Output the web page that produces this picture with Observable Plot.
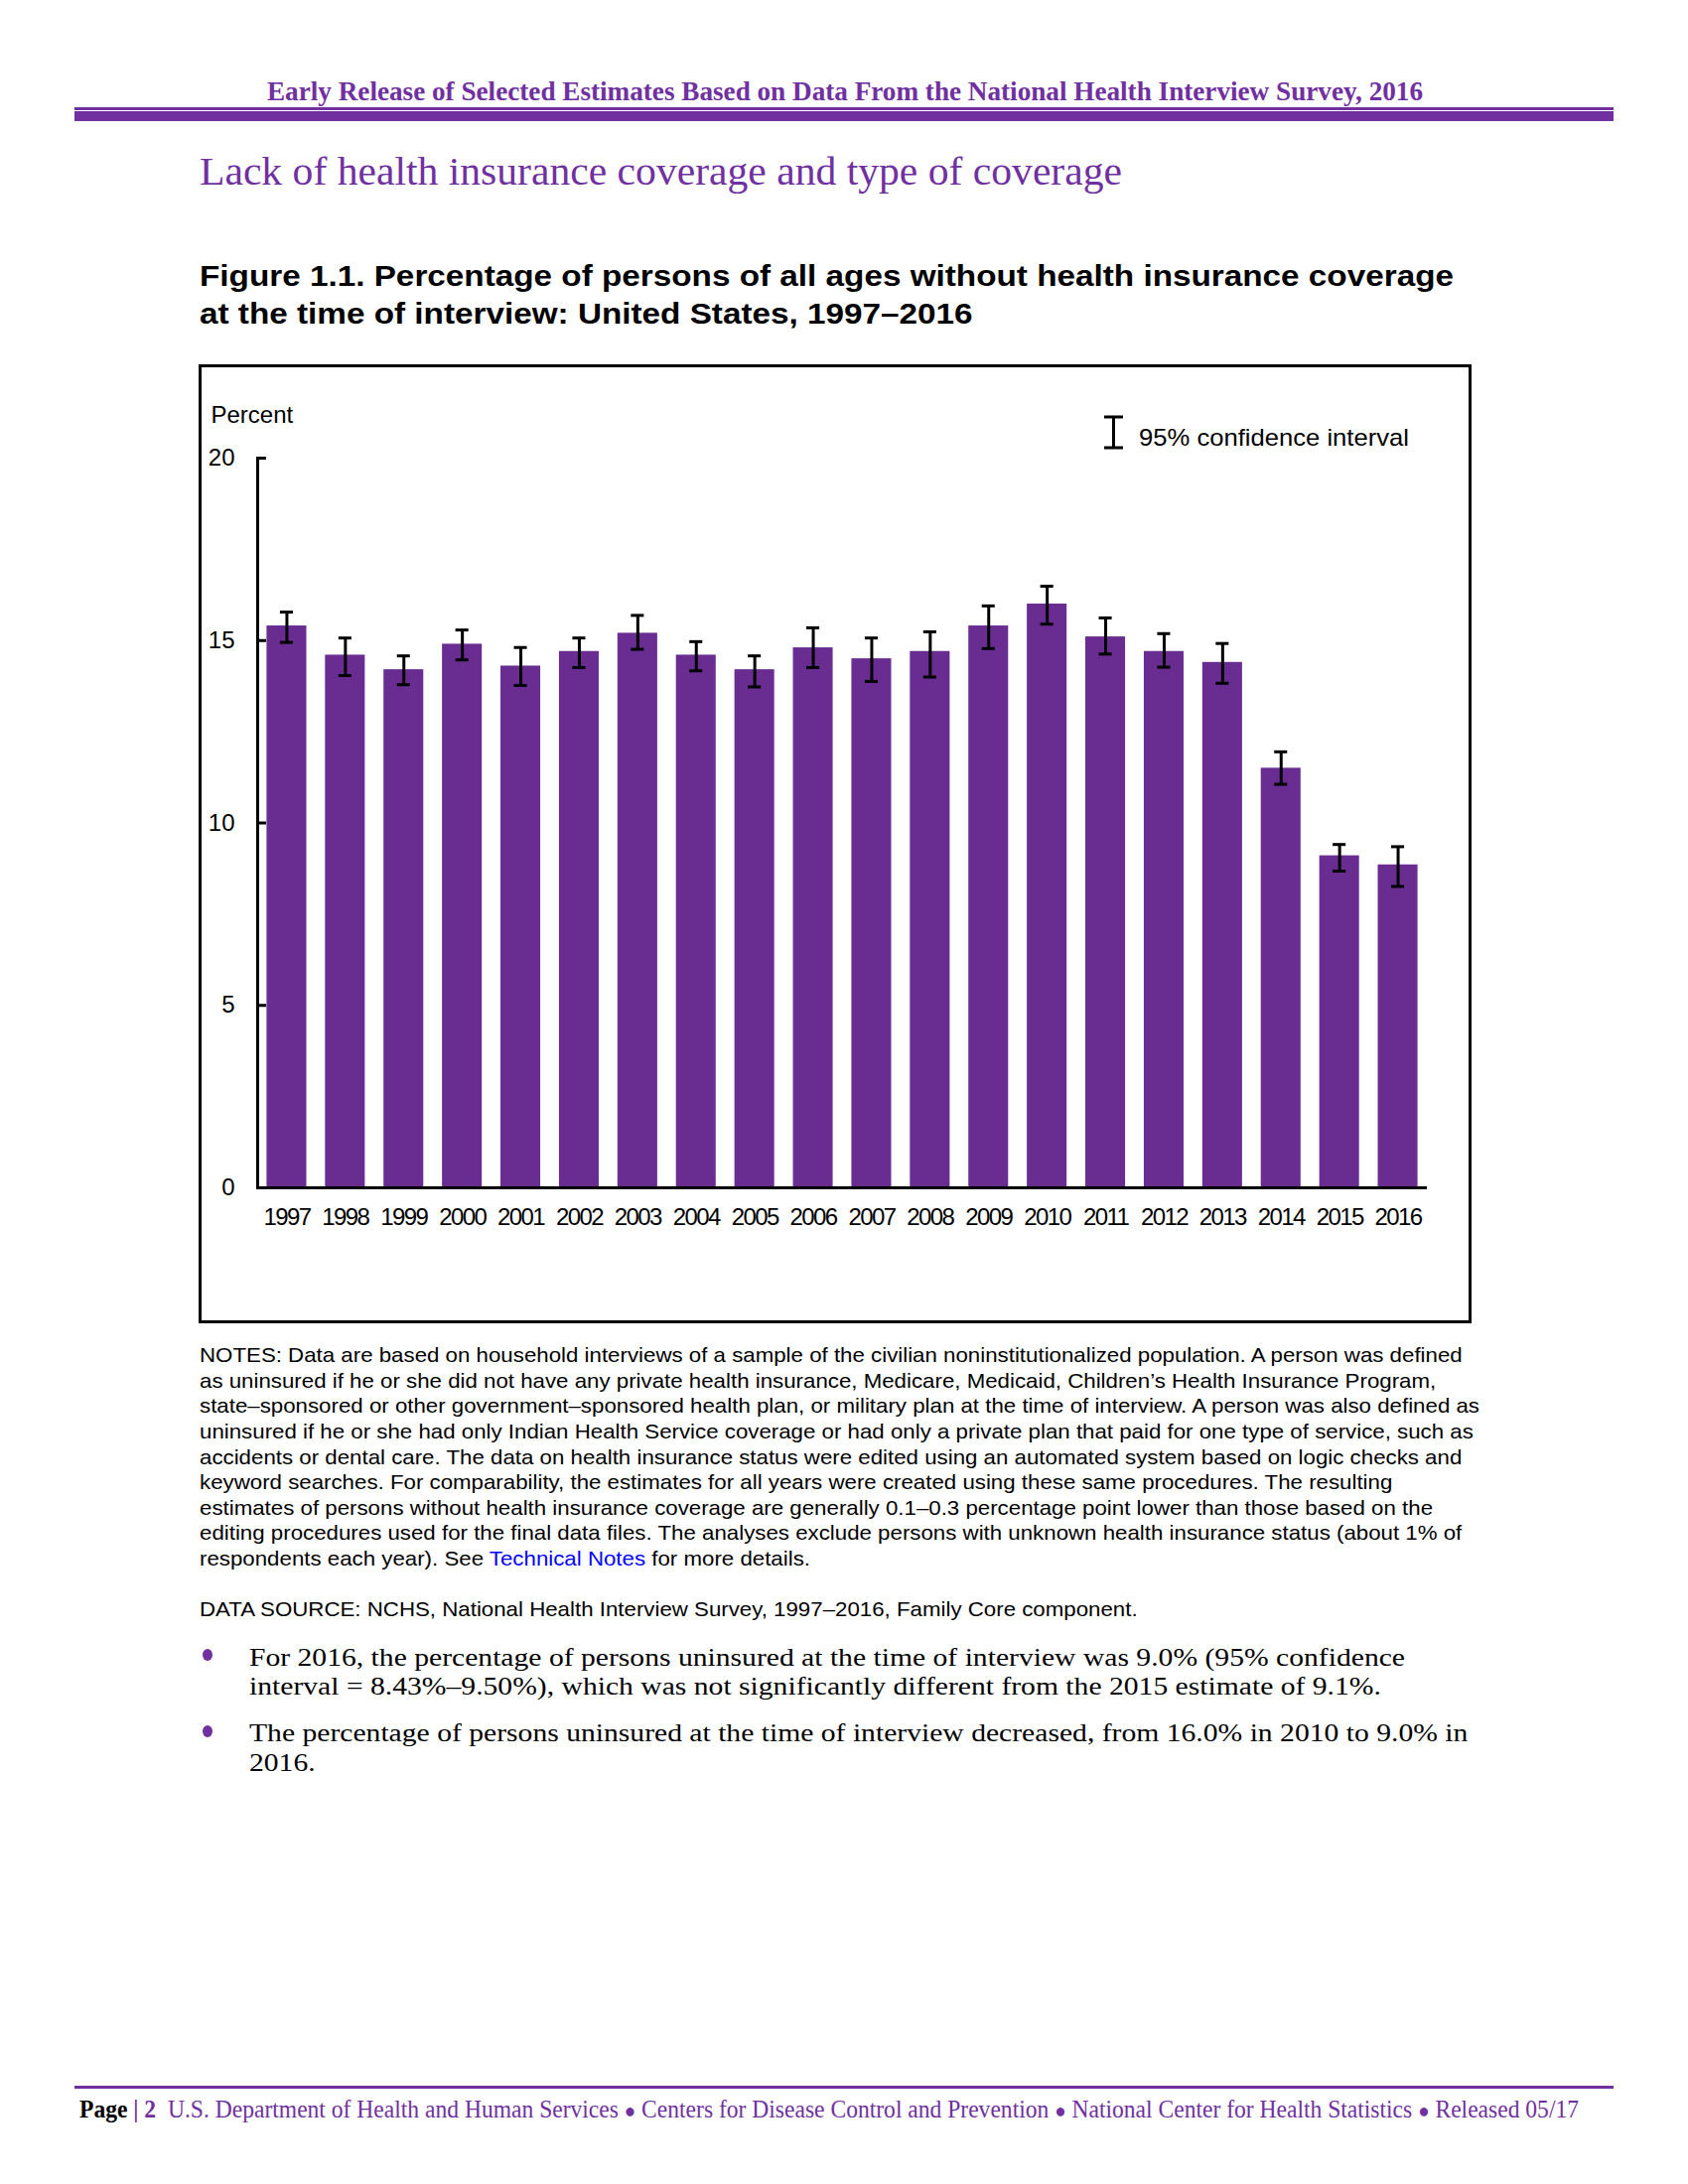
<!DOCTYPE html>
<html>
<head>
<meta charset="utf-8">
<script src="https://cdn.jsdelivr.net/npm/d3@7"></script>
<script src="https://cdn.jsdelivr.net/npm/@observablehq/plot@0.6"></script>
<style>
html,body{margin:0;padding:0;background:#fff;}
#page{position:relative;width:1700px;height:2200px;overflow:hidden;background:#fff;}
.abs{position:absolute;white-space:nowrap;line-height:1;transform-origin:0 0;}
.serif{font-family:"Liberation Serif","DejaVu Serif",serif;}
.sans{font-family:"Liberation Sans",Arial,sans-serif;}
g[aria-label="x-axis tick label"] text{letter-spacing:-1.6px;}
</style>
</head>
<body>
<div id="page"></div>
<script>
// ---------- data ----------
const years = ["1997","1998","1999","2000","2001","2002","2003","2004","2005","2006",
               "2007","2008","2009","2010","2011","2012","2013","2014","2015","2016"];
const pct    = [15.4, 14.6, 14.2, 14.9, 14.3, 14.7, 15.2, 14.6, 14.2, 14.8,
                14.5, 14.7, 15.4, 16.0, 15.1, 14.7, 14.4, 11.5, 9.1, 8.85];
const ciLow  = [14.95, 14.04, 13.79, 14.47, 13.77, 14.26, 14.76, 14.17, 13.73, 14.26,
                13.88, 14.00, 14.78, 15.45, 14.63, 14.27, 13.83, 11.06, 8.68, 8.26];
const ciHigh = [15.78, 15.07, 14.58, 15.29, 14.81, 15.07, 15.69, 14.97, 14.58, 15.35,
                15.07, 15.24, 15.95, 16.49, 15.62, 15.19, 14.92, 11.95, 9.41, 9.35];
const yTicks = [0, 5, 10, 15, 20];

const headerText = "Early Release of Selected Estimates Based on Data From the National Health Interview Survey, 2016";
const sectionTitle = "Lack of health insurance coverage and type of coverage";
const figTitle = ["Figure 1.1. Percentage of persons of all ages without health insurance coverage",
                  "at the time of interview: United States, 1997–2016"];
const yLabel = "Percent";
const legendText = "95% confidence interval";
const notes = [
  "NOTES: Data are based on household interviews of a sample of the civilian noninstitutionalized population. A person was defined",
  "as uninsured if he or she did not have any private health insurance, Medicare, Medicaid, Children’s Health Insurance Program,",
  "state–sponsored or other government–sponsored health plan, or military plan at the time of interview. A person was also defined as",
  "uninsured if he or she had only Indian Health Service coverage or had only a private plan that paid for one type of service, such as",
  "accidents or dental care. The data on health insurance status were edited using an automated system based on logic checks and",
  "keyword searches. For comparability, the estimates for all years were created using these same procedures. The resulting",
  "estimates of persons without health insurance coverage are generally 0.1–0.3 percentage point lower than those based on the",
  "editing procedures used for the final data files. The analyses exclude persons with unknown health insurance status (about 1% of",
  "respondents each year). See <span style=\"color:#0000ff\">Technical Notes</span> for more details."
];
const dataSource = "DATA SOURCE: NCHS, National Health Interview Survey, 1997–2016, Family Core component.";
const bullets = [
  ["For 2016, the percentage of persons uninsured at the time of interview was 9.0% (95% confidence",
   "interval = 8.43%–9.50%), which was not significantly different from the 2015 estimate of 9.1%."],
  ["The percentage of persons uninsured at the time of interview decreased, from 16.0% in 2010 to 9.0% in",
   "2016."]
];
const footerParts = ["U.S. Department of Health and Human Services", "Centers for Disease Control and Prevention",
                     "National Center for Health Statistics", "Released 05/17"];

// ---------- styling ----------
const PURPLE = "#7030a0";
const BAR = "#692c90";
const page = document.getElementById("page");

const BASE = {serif: 0.8375, sans: 0.8465};
function place(html, {x, baseline, size, font = "sans", weight = "normal", color = "#000", width = null}) {
  const d = document.createElement("div");
  d.className = "abs " + font;
  d.innerHTML = html;
  d.style.left = x + "px";
  d.style.top = (baseline - BASE[font] * size) + "px";
  d.style.fontSize = size + "px";
  d.style.fontWeight = weight;
  d.style.color = color;
  page.appendChild(d);
  if (width) {
    const w = d.getBoundingClientRect().width;
    d.style.transform = `scaleX(${width / w})`;
  }
  return d;
}
function box(x, y, w, h, style) {
  const d = document.createElement("div");
  d.style.position = "absolute";
  d.style.left = x + "px"; d.style.top = y + "px";
  d.style.width = w + "px"; d.style.height = h + "px";
  Object.assign(d.style, style);
  page.appendChild(d);
  return d;
}

// header
place(headerText, {x: 269, baseline: 102, size: 27, font: "serif", weight: "bold", color: PURPLE, width: 1164});
box(75, 108, 1550, 2.5, {background: PURPLE});
box(75, 112, 1550, 10, {background: PURPLE});

// section title
place(sectionTitle, {x: 201, baseline: 186, size: 39, font: "serif", color: PURPLE, width: 929});

// figure title
const ft1 = place(figTitle[0], {x: 201, baseline: 288.5, size: 30, font: "sans", weight: "bold"});
const ft2 = place(figTitle[1], {x: 201, baseline: 326.8, size: 30, font: "sans", weight: "bold"});
const tScale = 1263 / ft1.getBoundingClientRect().width;
ft1.style.transform = ft2.style.transform = `scaleX(${tScale})`;

// chart frame
box(200, 367, 1276, 960, {border: "3px solid #000"});

// chart
const data = years.map((year, i) => ({year, value: pct[i], lo: ciLow[i], hi: ciHigh[i]}));
const chart = Plot.plot({
  width: 1276, height: 925,
  marginLeft: 56, marginRight: 42, marginTop: 56, marginBottom: 134,
  style: {fontFamily: "Liberation Sans, Arial, sans-serif", fontSize: "24px", color: "#000", background: "transparent", overflow: "visible"},
  x: {type: "band", domain: years, paddingInner: 0.32, paddingOuter: 0.16, align: 0.5, round: false},
  y: {domain: [0, 20]},
  marks: [
    Plot.barY(data, {x: "year", y: "value", fill: BAR}),
    Plot.ruleX(data, {x: "year", y1: "lo", y2: "hi", stroke: "#000", strokeWidth: 3}),
    Plot.tickY(data, {x: "year", y: "lo", stroke: "#000", strokeWidth: 3, insetLeft: 13.5, insetRight: 13.5}),
    Plot.tickY(data, {x: "year", y: "hi", stroke: "#000", strokeWidth: 3, insetLeft: 13.5, insetRight: 13.5}),
    Plot.axisY({ticks: yTicks, tickSize: -9, tickPadding: 32, strokeWidth: 3, tickFormat: d => String(d),
                label: yLabel, labelAnchor: "top", labelArrow: "none", labelOffset: 47}),
    Plot.axisX({tickSize: 0, tickPadding: 20, label: null}),
    Plot.frame({anchor: "left", stroke: "#000", strokeWidth: 3}),
    Plot.ruleY([0], {stroke: "#000", strokeWidth: 3})
  ]
});
chart.style.position = "absolute";
chart.style.left = "203px";
chart.style.top = "405px";
page.appendChild(chart);

// legend
const lg = document.createElementNS("http://www.w3.org/2000/svg", "svg");
lg.setAttribute("width", "24"); lg.setAttribute("height", "36");
lg.style.position = "absolute"; lg.style.left = "1110px"; lg.style.top = "418px";
lg.innerHTML = '<path d="M11.5,2V33M2,2H21M2,33H21" stroke="#000" stroke-width="3" fill="none"/>';
page.appendChild(lg);
place(legendText, {x: 1147, baseline: 449.5, size: 24, font: "sans", width: 272});

// notes
const noteEls = notes.map((t, i) => place(t, {x: 201, baseline: 1372 + i * 25.6, size: 21, font: "sans"}));
const nScale = 1289 / noteEls[2].getBoundingClientRect().width;
noteEls.forEach(el => el.style.transform = `scaleX(${nScale})`);
const ds = place(dataSource, {x: 201, baseline: 1627.5, size: 21, font: "sans"});
ds.style.transform = `scaleX(${nScale})`;

// bullets
const bBase = [[1678.3, 1707.3], [1755, 1784.3]];
const bEls = [];
bullets.forEach((lines, bi) => {
  box(204, bBase[bi][0] - 17, 10, 12, {background: PURPLE, borderRadius: "50%"});
  lines.forEach((t, li) => bEls.push(place(t, {x: 251, baseline: bBase[bi][li], size: 26, font: "serif"})));
});
const bScale = 1164 / bEls[0].getBoundingClientRect().width;
bEls.forEach(el => el.style.transform = `scaleX(${bScale})`);

// footer
box(75, 2101, 1550, 3, {background: PURPLE});
const fhtml = '<span style="color:#000;font-weight:bold">Page</span> <span style="color:' + PURPLE + ';font-weight:bold">| 2</span>&nbsp; ' +
  footerParts.join(' <span style="font-size:0.8em">&#9679;</span> ');
place(fhtml, {x: 80, baseline: 2133, size: 25, font: "serif", color: PURPLE, width: 1510});
</script>
</body>
</html>
